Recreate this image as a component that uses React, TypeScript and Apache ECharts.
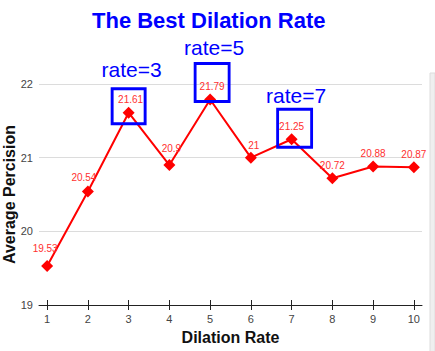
import React, { useEffect, useRef } from "react";
import * as echarts from "echarts";

const rates = [1, 2, 3, 4, 5, 6, 7, 8, 9, 10];
const precision = [19.53, 20.54, 21.61, 20.9, 21.79, 21, 21.25, 20.72, 20.88, 20.87];
const yTicks = [19, 20, 21, 22];
const highlightedRates = [3, 5, 7];
const highlightLabels = ["rate=3", "rate=5", "rate=7"];

// styling: small nudges of the value labels (px), per point
const valueLabelOffsets = [
  [-2, -4], [-4, -1], [2, 0], [2, -4], [2, 0], [3, 1], [0, 0], [0, 0], [0, 0], [0, 0],
];

// styling of the highlight boxes (size, offset of box, offset of label)
const boxStyles = [
  { size: [33, 35], offset: [0, -6.5], labelOffset: [3, -37] },
  { size: [34, 38], offset: [2, -17], labelOffset: [2, -35] },
  { size: [34, 38], offset: [3, -11], labelOffset: [1.5, -33] },
];

const FONT = "'Liberation Sans', Arial, sans-serif";

export default function App() {
  const ref = useRef<HTMLDivElement>(null);

  useEffect(() => {
    if (!ref.current) return;
    const chart = echarts.init(ref.current, undefined, { renderer: "svg" });

    const markData = highlightedRates.map((r, k) => {
      const idx = rates.indexOf(r);
      const st = boxStyles[k];
      return {
        coord: [r, precision[idx]],
        symbol: "rect",
        symbolSize: st.size,
        symbolOffset: st.offset,
        label: {
          show: true,
          position: "inside",
          formatter: highlightLabels[k],
          offset: st.labelOffset,
          color: "#0000ff",
          fontSize: 21,
          fontFamily: FONT,
        },
      };
    });

    const lineData = rates.map((r, i) => ({
      value: [r, precision[i]],
      label: { offset: valueLabelOffsets[i] },
    }));

    chart.setOption({
      animation: false,
      textStyle: { fontFamily: FONT },
      title: {
        text: "The Best Dilation Rate",
        left: 87,
        top: 4,
        textStyle: { color: "#0000ff", fontSize: 22, fontWeight: "bold", fontFamily: FONT },
      },
      grid: { left: 39, right: 13, top: 84, bottom: 46, containLabel: false, outerBoundsMode: "none" },
      xAxis: [
        {
          type: "value",
          min: 0.8,
          max: 10.2,
          name: "Dilation Rate",
          nameLocation: "middle",
          nameGap: 24,
          nameMoveOverlap: false,
          nameTextStyle: { fontSize: 16, fontWeight: "bold", color: "#111", fontFamily: FONT },
          axisLine: { show: true, onZero: false, lineStyle: { color: "#222", width: 1 } },
          axisTick: { show: true, length: 5, customValues: rates, lineStyle: { color: "#222" } },
          axisLabel: { customValues: rates, fontSize: 11, color: "#444", margin: 8 },
          splitLine: { show: false },
        },
        {
          type: "value",
          min: 0.8,
          max: 10.2,
          position: "bottom",
          axisLine: { show: false },
          axisTick: { show: true, inside: true, length: 5, customValues: rates, lineStyle: { color: "#222" } },
          axisLabel: { show: false },
          splitLine: { show: false },
        },
      ],
      yAxis: {
        type: "value",
        min: yTicks[0],
        max: yTicks[yTicks.length - 1],
        interval: 1,
        name: "Average Percision",
        nameLocation: "middle",
        nameGap: 22,
        nameMoveOverlap: false,
        nameTextStyle: { fontSize: 16, fontWeight: "bold", color: "#111", fontFamily: FONT },
        axisLine: { show: false },
        axisTick: { show: false },
        axisLabel: { fontSize: 11, color: "#444", margin: 6 },
        splitLine: { show: true, lineStyle: { color: "#dcdcdc", width: 1 } },
      },
      series: [
        {
          type: "line",
          data: lineData,
          symbol: "diamond",
          symbolSize: 12,
          lineStyle: { color: "#ff0000", width: 2 },
          itemStyle: { color: "#ff0000" },
          label: {
            show: true,
            position: "top",
            distance: 2,
            fontSize: 10,
            color: "#ff3030",
            formatter: (p: any) => String(p.value[1]),
          },
          emphasis: { disabled: true },
          markPoint: {
            silent: true,
            itemStyle: { color: "rgba(0,0,0,0)", borderColor: "#0000ff", borderWidth: 3 },
            emphasis: { disabled: true },
            data: markData,
          },
        },
      ],
      graphic: [
        {
          type: "rect",
          shape: { x: 430, y: 73, width: 5, height: 280 },
          style: { fill: "#efefef", stroke: "#dddddd", lineWidth: 1 },
          silent: true,
        },
      ],
    });

    return () => chart.dispose();
  }, []);

  return <div ref={ref} style={{ width: 435, height: 351, position: "absolute", left: 0, top: 0 }} />;
}
